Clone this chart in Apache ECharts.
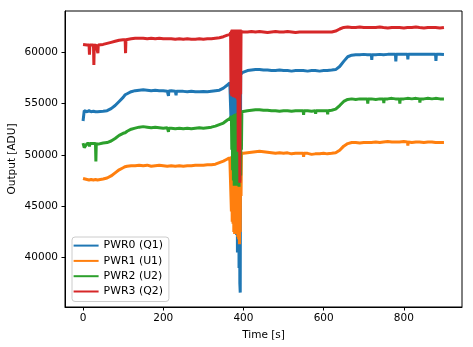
<!DOCTYPE html>
<html>
<head>
<meta charset="utf-8">
<script src="https://cdn.jsdelivr.net/npm/echarts@6/dist/echarts.min.js"></script>
<style>html,body{margin:0;padding:0;background:#fff;}#c{width:473px;height:347px;}</style>
</head>
<body>
<div id="c"></div>
<script>
// ---- data ----
var seriesNames = ['PWR0 (Q1)', 'PWR1 (U1)', 'PWR2 (U2)', 'PWR3 (Q2)'];
var xTicks = [0, 200, 400, 600, 800];
var yTicks = [40000, 45000, 50000, 55000, 60000];

var time = [
  0,3,10,15,16,17,20,26,27,28,31,32,33,36,37,38,40,50,60,70,80,90,100,105,106,107,110,120,130,140,150,160,170,180,190,200,210,212,213,214,220,230,231,232,233,240,250,260,270,280,290,300,310,320,330,340,350,360,
  366,367,368,369,370,371,372,373,374,375,376,377,378,379,380,381,382,383,384,385,386,387,388,389,390,391,392,393,394,395,396,397,398,
  400,410,420,430,440,450,460,470,480,490,500,510,520,530,540,549,550,551,560,570,579,580,581,590,600,609,610,611,620,630,640,650,660,670,680,690,700,709,710,711,719,720,721,730,740,749,750,751,760,770,779,780,781,789,790,791,800,809,810,811,820,830,839,840,841,850,860,870,879,880,881,890,900
];

var pwr0 = [
  53300,54300,54200,54300,54250,54300,54200,54250,54200,54250,54200,54150,54250,54200,54300,54200,54200,54250,54300,54500,54800,55200,55600,55850,55900,55950,55950,56150,56250,56300,56330,56300,56250,56280,56250,56250,56200,56220,55740,56220,56250,56200,56200,55800,56200,56200,56180,56150,56200,56150,56150,56160,56150,56200,56250,56300,56500,56800,
  57000,57050,57100,53400,57200,53200,57300,53300,57300,53200,57400,53300,57400,53200,57500,53300,57500,42200,57500,40500,57600,43500,57600,39000,57700,37500,36600,57800,57850,57900,57950,58000,58050,
  58100,58200,58250,58300,58300,58250,58250,58200,58200,58250,58200,58200,58150,58200,58200,58200,58200,58200,58150,58200,58200,58200,58200,58150,58200,58200,58200,58200,58250,58300,58600,59100,59550,59700,59750,59750,59780,59750,59750,59750,59750,59250,59750,59750,59780,59750,59750,59750,59780,59800,59780,59100,59780,59780,59780,59780,59800,59800,59300,59800,59780,59800,59800,59800,59800,59780,59800,59780,59780,59150,59780,59780,59760
];

var pwr1 = [
  47700,47550,47600,47550,47500,47550,47600,47550,47550,47600,47600,47600,47550,47550,47550,47600,47600,47650,47750,47950,48250,48550,48750,48850,48860,48870,48900,48950,48950,49000,48950,49000,48900,48950,49000,48950,48900,48950,48950,48950,48950,48900,48950,48950,48950,48950,48900,48950,48950,49000,49000,49000,49050,49050,49100,49250,49400,49600,
  49700,49750,49800,49850,44500,49900,43500,49950,43300,50000,42500,50000,42300,50050,42600,50050,42400,50100,42300,50100,42000,50100,41800,50150,41300,50150,42500,50150,46000,50200,50150,50200,50150,
  50150,50200,50250,50300,50350,50300,50250,50200,50150,50200,50150,50200,50100,50150,50150,50150,49800,50150,50150,50050,50100,50150,50100,50100,50150,50100,50100,50100,50150,50200,50450,50850,51100,51200,51200,51150,51200,51200,51200,51200,51200,51250,51200,51250,51200,51250,51250,51250,51300,51250,51250,51250,51250,51250,51250,51250,51300,51250,50900,51250,51200,51250,51250,51250,51250,51200,51250,51250,51200,51250,51200,51200,51200
];

var pwr2 = [
  51150,50700,51100,51100,50800,51100,51150,51100,51050,51100,51100,49350,51100,51050,51100,51050,51050,51150,51200,51350,51600,51900,52100,52150,52150,52200,52300,52500,52600,52700,52750,52700,52650,52700,52650,52600,52650,52600,52250,52600,52600,52550,52600,52600,52600,52600,52550,52600,52550,52600,52650,52600,52650,52700,52800,52950,53100,53400,
  53550,53600,53650,53700,53750,50500,53800,48500,53850,47500,53900,47000,53950,47200,54000,47000,54000,47300,54050,47000,54100,47100,54100,46900,54150,47500,54150,48000,54200,50500,54200,54250,54200,
  54200,54300,54350,54400,54400,54350,54350,54300,54300,54250,54300,54300,54250,54300,54300,54300,53900,54300,54300,54250,54300,54000,54300,54300,54300,54300,53950,54300,54350,54450,54800,55200,55400,55450,55400,55450,55450,55450,55000,55450,55450,55450,55450,55400,55450,55450,55050,55450,55450,55500,55450,55450,55450,55450,55000,55450,55450,55500,55500,55500,55450,55500,55450,55100,55450,55450,55500,55450,55500,55500,55500,55450,55450
];

var pwr3 = [
  60750,60650,60700,60700,59740,60700,60700,60700,58760,60700,60650,60650,60650,60700,59900,60700,60700,60750,60850,60950,61050,61150,61200,61200,59900,61200,61250,61300,61350,61350,61350,61300,61350,61300,61350,61300,61300,61300,61250,61300,61300,61250,61300,61300,61300,61300,61250,61300,61250,61250,61300,61250,61300,61300,61350,61400,61500,61650,
  61700,61800,61900,55900,62100,55700,62200,55800,62100,55600,62200,55900,62100,55700,62200,55500,62100,55800,62200,55400,62100,50300,62200,55600,62100,47300,62200,55900,62000,62100,62000,61950,62000,
  61950,61950,62000,61950,62000,61950,61900,61950,62000,61950,61950,62000,61950,61900,61950,61950,62000,61950,61950,61950,61950,61900,61950,61950,61950,61950,62000,61950,61950,62050,62250,62400,62450,62400,62400,62450,62400,62400,62400,62400,62400,62450,62400,62400,62450,62400,62400,62400,62350,62400,62400,62450,62400,62400,62400,62400,62350,62400,62400,62400,62400,62450,62400,62400,62400,62350,62400,62400,62400,62400,62400,62350,62400
];

var colors = ['#1f77b4', '#ff7f0e', '#2ca02c', '#d62728'];
var allValues = [pwr0, pwr1, pwr2, pwr3];

function pairs(vals) {
  var out = [];
  for (var i = 0; i < time.length; i++) out.push([time[i], vals[i]]);
  return out;
}

var FONT = 'DejaVu Sans';
var FS = 10.5;

var chart = echarts.init(document.getElementById('c'), null, {renderer: 'canvas'});
chart.setOption({
  animation: false,
  backgroundColor: '#fff',
  color: colors,
  textStyle: {fontFamily: FONT, fontSize: FS, color: '#000'},
  grid: {left: 65, right: 11, top: 11, bottom: 40, containLabel: false, outerBoundsMode: 'none',
         show: true, borderColor: '#000', borderWidth: 1, backgroundColor: 'transparent'},
  xAxis: {
    type: 'value', min: -45, max: 945,
    name: 'Time [s]', nameLocation: 'middle', nameGap: 23, nameMoveOverlap: false,
    nameTextStyle: {fontFamily: FONT, fontSize: FS, color: '#000'},
    axisLine: {show: true, onZero: false, lineStyle: {color: '#000', width: 1}},
    axisTick: {show: true, inside: false, length: 3.5, lineStyle: {color: '#000'}, customValues: xTicks},
    axisLabel: {customValues: xTicks, margin: 6, fontFamily: FONT, fontSize: FS, color: '#000',
                formatter: function (v) { return String(v); }},
    splitLine: {show: false}
  },
  yAxis: {
    type: 'value', min: 35200, max: 64000,
    name: 'Output [ADU]', nameLocation: 'middle', nameGap: 47, nameMoveOverlap: false,
    nameTextStyle: {fontFamily: FONT, fontSize: FS, color: '#000'},
    axisLine: {show: true, onZero: false, lineStyle: {color: '#000', width: 1}},
    axisTick: {show: true, inside: false, length: 3.5, lineStyle: {color: '#000'}, customValues: yTicks},
    axisLabel: {customValues: yTicks, margin: 7, fontFamily: FONT, fontSize: FS, color: '#000',
                formatter: function (v) { return String(v); }},
    splitLine: {show: false}
  },
  legend: {
    orient: 'vertical', left: 72, top: 237,
    data: seriesNames,
    icon: 'rect', itemWidth: 25, itemHeight: 2, itemGap: 3.3, itemTextGap: 8,
    padding: [2.6, 6, 4, 1.6],
    borderColor: '#cccccc', borderWidth: 1, borderRadius: 3,
    backgroundColor: 'rgba(255,255,255,0.8)',
    textStyle: {fontFamily: FONT, fontSize: 10.9, color: '#000', lineHeight: 12}
  },
  series: seriesNames.map(function (n, i) {
    return {
      name: n, type: 'line', data: pairs(allValues[i]),
      showSymbol: false, symbol: 'none',
      lineStyle: {color: colors[i], width: 3},
      itemStyle: {color: colors[i]}
    };
  })
});
</script>
</body>
</html>
